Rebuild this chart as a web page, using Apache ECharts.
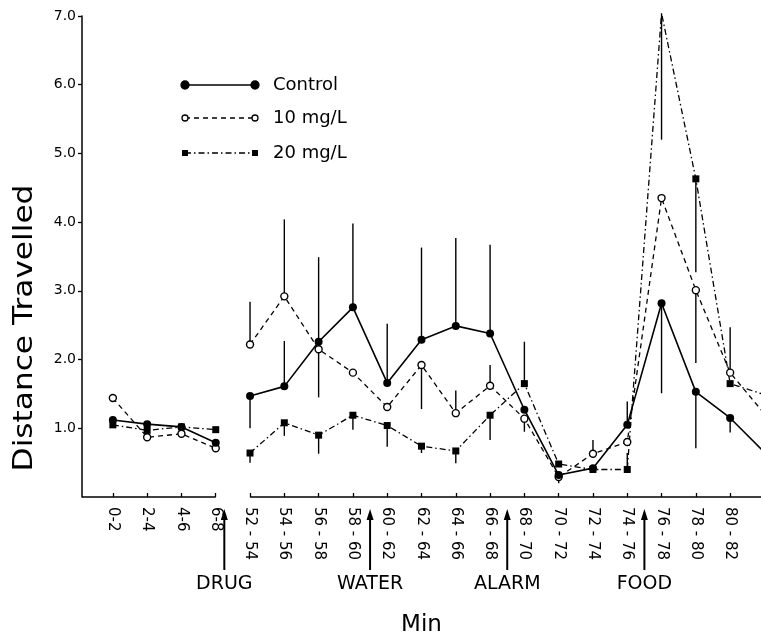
<!DOCTYPE html>
<html><head><meta charset="utf-8">
<script src="https://cdn.jsdelivr.net/npm/echarts@6/dist/echarts.min.js"></script>
<style>html,body{margin:0;padding:0;background:#fff}#c{width:761px;height:639px}</style>
</head><body><div id="c"></div>
<script>
// ---- data ----
const categories = ['0-2','2-4','4-6','6-8','52 - 54','54 - 56','56 - 58','58 - 60','60 - 62','62 - 64','64 - 66','66 - 68','68 - 70','70 - 72','72 - 74','74 - 76','76 - 78','78 - 80','80 - 82','82 - 84'];
const control = [1.12,1.06,1.02,0.79,1.47,1.61,2.26,2.76,1.66,2.29,2.49,2.38,1.27,0.32,0.42,1.05,2.82,1.53,1.15,0.65];
const mg10    = [1.44,0.87,0.92,0.71,2.22,2.92,2.15,1.81,1.31,1.92,1.22,1.62,1.14,0.29,0.63,0.80,4.35,3.01,1.81,1.21];
const mg20    = [1.05,0.97,1.02,0.98,0.64,1.08,0.90,1.19,1.04,0.74,0.67,1.19,1.65,0.48,0.40,0.40,7.04,4.63,1.65,1.49];
// error-bar end values (null = no bar drawn)
const controlErr = [null,null,null,null,1.00,2.27,3.49,3.98,2.52,3.63,3.77,3.67,null,null,null,1.39,1.51,0.71,0.94,null];
const mg10Err    = [null,null,null,null,2.84,4.04,1.45,null,null,1.28,1.55,1.92,0.95,0.20,0.83,null,null,1.95,2.47,null];
const mg20Err    = [null,null,null,null,0.50,0.89,0.63,0.98,0.73,0.64,0.49,0.83,2.26,null,null,0.64,5.20,3.27,null,null];
const yTicks = [1,2,3,4,5,6,7];
const events = ['DRUG','WATER','ALARM','FOOD'];
const eventPos = [3.25,7.5,11.5,15.5];
const breakAfter = 3;            // axis / lines are broken between 6-8 and 52-54
const axisSegments = [[-0.9,3],[4,18.9]];
const seriesNames = ['Control','10 mg/L','20 mg/L'];

// ---- chart ----
const FONT = "'DejaVu Sans', sans-serif";
function toData(vals){
  const out=[];
  vals.forEach((v,i)=>{ out.push([i,v]); if(i===breakAfter) out.push([i+0.5,'-']); });
  return out;
}
function errData(vals, errs){
  const out=[];
  errs.forEach((e,i)=>{ if(e!==null) out.push([i, vals[i], e]); });
  return out;
}
const tickIdx = categories.map((c,i)=>i).filter(i=>i<=18);

const chart = echarts.init(document.getElementById('c'), null, {renderer:'canvas'});
const errRender = function(params, api){
  const p1 = api.coord([api.value(0), api.value(1)]);
  const p2 = api.coord([api.value(0), api.value(2)]);
  return {type:'line', shape:{x1:p1[0],y1:p1[1],x2:p2[0],y2:p2[1]}, style:{stroke:'#000', lineWidth:1.4}};
};
const legendRows = [
  {y:85, line:'solid', sym:'circle', fill:'#000', r:4},
  {y:118, line:[5,4], sym:'circle', fill:'#fff', r:3},
  {y:153, line:[6,3,1.5,3], sym:'rect', fill:'#000', r:3}
];
const graphics = [
  {type:'text', x:25, y:328, rotation:Math.PI/2, scaleX:1.2,
   style:{text:'Distance Travelled', font:'26px '+FONT, fill:'#000', align:'center', verticalAlign:'middle'}}
];
legendRows.forEach((r,k)=>{
  graphics.push({type:'line', shape:{x1:185,y1:r.y,x2:255,y2:r.y}, style:{stroke:'#000', lineWidth:1.3, lineDash: r.line==='solid'?null:r.line}});
  [185,255].forEach(x=>{
    if(r.sym==='circle') graphics.push({type:'circle', shape:{cx:x,cy:r.y,r:r.r}, style:{fill:r.fill, stroke:'#000', lineWidth:1.3}});
    else graphics.push({type:'rect', shape:{x:x-r.r,y:r.y-r.r,width:2*r.r,height:2*r.r}, style:{fill:'#000'}});
  });
  graphics.push({type:'text', x:273, y:r.y, style:{text:seriesNames[k], font:'18px '+FONT, fill:'#000', verticalAlign:'middle'}});
});

const option = {
  backgroundColor:'#fff',
  animation:false,
  grid:{left:82, right:0, top:16, bottom:142, containLabel:false, outerBoundsMode:'none'},
  xAxis:{
    type:'value', min:-0.9, max:18.9,
    axisLine:{show:false, onZero:false},
    axisTick:{show:true, inside:true, length:4, customValues:tickIdx, lineStyle:{color:'#000', width:1.3}},
    axisLabel:{show:true, customValues:tickIdx, rotate:-90, margin:10, color:'#000', fontSize:15, fontFamily:FONT,
      formatter:v=>categories[Math.round(v)]},
    splitLine:{show:false},
    name:'Min', nameLocation:'middle', nameGap:117,
    nameTextStyle:{fontSize:23, color:'#000', fontFamily:FONT}
  },
  yAxis:{
    type:'value', min:0, max:7, interval:1,
    axisLine:{show:true, onZero:false, lineStyle:{color:'#000', width:1.5}},
    axisTick:{show:true, inside:false, length:4, customValues:yTicks, lineStyle:{color:'#000', width:1.3}},
    axisLabel:{color:'#000', fontSize:14, fontFamily:FONT, margin:6, customValues:yTicks,
      formatter:v=> v.toFixed(1)},
    splitLine:{show:false}
  },
  graphic:graphics,
  series:[
    {type:'custom', name:'axisBreak', data:axisSegments, encode:{x:[0,1]}, clip:false, silent:true, z:1,
     renderItem:function(params, api){
       const p1 = api.coord([api.value(0), 0]);
       const p2 = api.coord([api.value(1), 0]);
       return {type:'line', shape:{x1:p1[0],y1:p1[1],x2:p2[0],y2:p2[1]}, style:{stroke:'#000', lineWidth:1.5}};
     }},
    {type:'custom', name:'err0', data:errData(control, controlErr), encode:{x:0, y:[1,2]}, renderItem:errRender, z:2, silent:true},
    {type:'custom', name:'err1', data:errData(mg10, mg10Err), encode:{x:0, y:[1,2]}, renderItem:errRender, z:2, silent:true},
    {type:'custom', name:'err2', data:errData(mg20, mg20Err), encode:{x:0, y:[1,2]}, renderItem:errRender, z:2, silent:true},
    {type:'line', name:seriesNames[0], data:toData(control), connectNulls:false, clip:true, z:5,
     symbol:'circle', symbolSize:8, showAllSymbol:true,
     lineStyle:{color:'#000', width:1.6, type:'solid'}, itemStyle:{color:'#000'}},
    {type:'line', name:seriesNames[1], data:toData(mg10), connectNulls:false, clip:true, z:4,
     symbol:'circle', symbolSize:7, showAllSymbol:true,
     lineStyle:{color:'#000', width:1.3, type:[5,4]}, itemStyle:{color:'#fff', borderColor:'#000', borderWidth:1.4}},
    {type:'line', name:seriesNames[2], data:toData(mg20), connectNulls:false, clip:true, z:3,
     symbol:'rect', symbolSize:7, showAllSymbol:true,
     lineStyle:{color:'#000', width:1.3, type:[6,3,1.5,3]}, itemStyle:{color:'#000'}},
    {type:'custom', name:'events', data:eventPos.map((p,i)=>[p,i]), encode:{x:0}, clip:false, silent:true, z:6,
     renderItem:function(params, api){
       const c = api.coord([api.value(0), 0]);
       const idx = api.value(1);
       return {type:'group', children:[
         {type:'line', shape:{x1:c[0],y1:c[1]+73,x2:c[0],y2:c[1]+20}, style:{stroke:'#000', lineWidth:2}},
         {type:'polygon', shape:{points:[[c[0]-3.5,c[1]+23],[c[0]+3.5,c[1]+23],[c[0],c[1]+12]]}, style:{fill:'#000'}},
         {type:'text', x:c[0], y:c[1]+87, style:{text:events[idx], font:'19px '+FONT, fill:'#000', align:'center', verticalAlign:'middle'}}
       ]};
     }}
  ]
};
chart.setOption(option);
</script>
</body></html>
